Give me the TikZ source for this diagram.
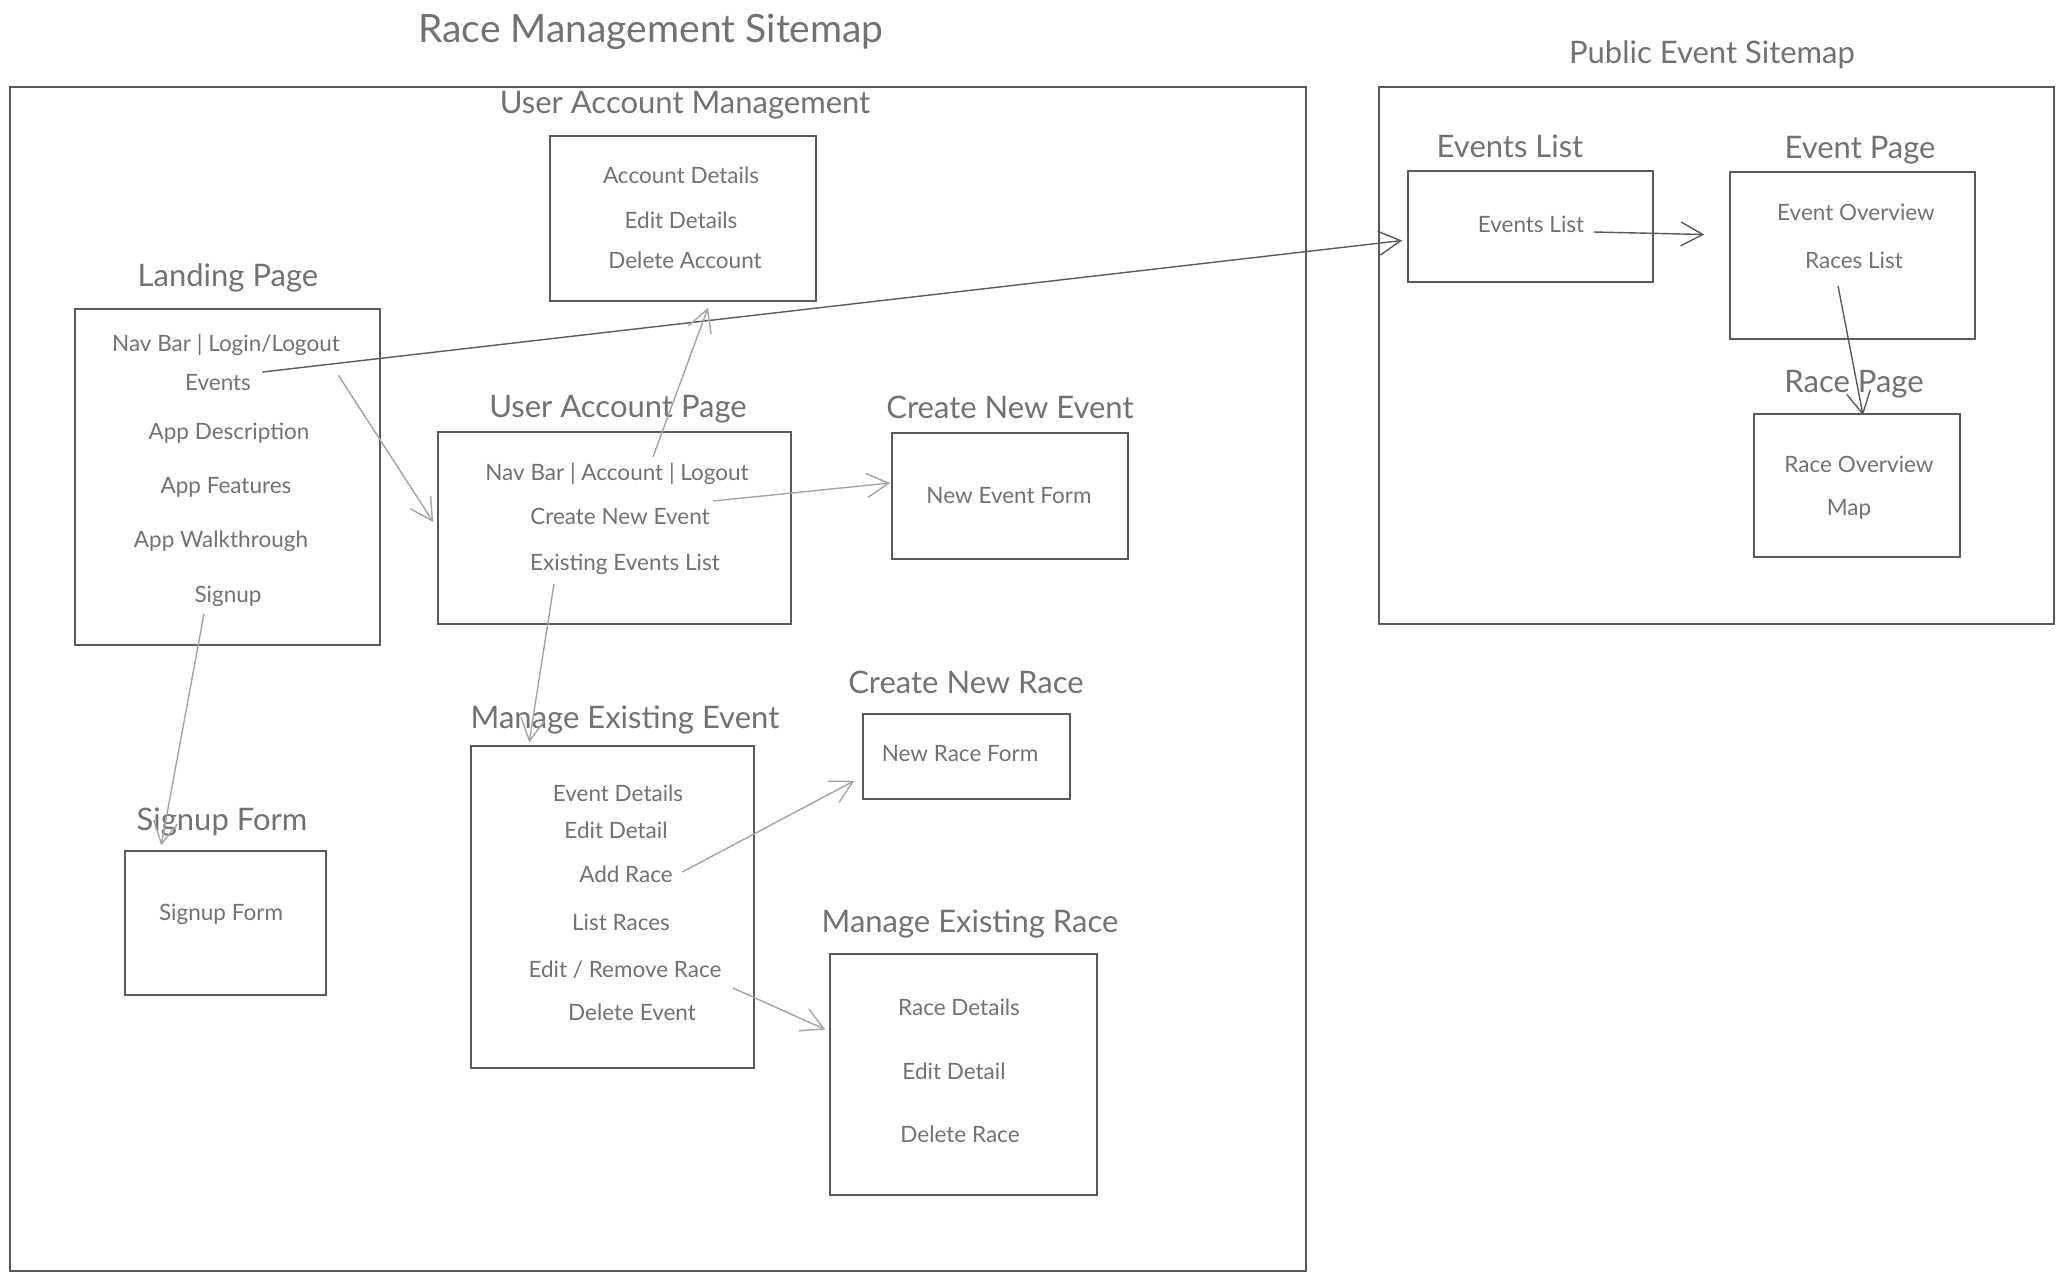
\documentclass[tikz,border=0pt]{standalone}
\usepackage{fontspec}
\setmainfont{Lato}
\usetikzlibrary{arrows.meta}
\definecolor{inkgray}{HTML}{5A5A5A}
\definecolor{textgray}{HTML}{727272}
\definecolor{lightink}{HTML}{A4A4A4}
\tikzset{
  frame/.style={draw=inkgray, line width=2pt, inner sep=0pt},
  pagebox/.style={draw=inkgray, line width=1.6pt, inner sep=0pt},
  bigtitle/.style={text=textgray, font=\fontsize{39}{45}\selectfont},
  pagetitle/.style={text=textgray, font=\fontsize{31}{36}\selectfont},
  item/.style={text=textgray, font=\fontsize{22.5}{27}\selectfont},
  link/.style={draw=lightink, line width=1.4pt, -{Straight Barb[length=22pt, width=24pt, line width=1.4pt]}},
  darklink/.style={link, draw=inkgray}
}
\begin{document}
\begin{tikzpicture}[x=1pt, y=-1pt]
  \useasboundingbox (0,0) rectangle (2063,1279);
  \fill[white] (0,0) rectangle (2063,1279);

  % frames
  \node[frame, minimum width=1296pt, minimum height=1184pt] (mgmt) at (658,679) {};
  \node[bigtitle] (mgmtTitle) at (651,32) {Race Management Sitemap};
  \node[frame, minimum width=675pt, minimum height=537pt] (public) at (1716.5,355.5) {};
  \node[pagetitle] (publicTitle) at (1712,55) {Public Event Sitemap};

  % user account management
  \node[pagetitle] (acctTitle) at (685,105) {User Account Management};
  \node[pagebox, minimum width=266pt, minimum height=165pt] (acct) at (683,218.5) {};
  \node[item] (acctDetails) at (681,175) {Account Details};
  \node[item] (acctEdit) at (681,220) {Edit Details};
  \node[item] (acctDelete) at (685,260) {Delete Account};

  % landing page
  \node[pagetitle] (landTitle) at (228,278) {Landing Page};
  \node[pagebox, minimum width=305pt, minimum height=336pt] (land) at (227.5,477) {};
  \node[item] (landNav) at (226,345) {Nav Bar | Login/Logout};
  \node[item] (landEvents) at (218,383) {Events};
  \node[item] (landDesc) at (229,433) {App Description};
  \node[item] (landFeat) at (226,487) {App Features};
  \node[item] (landWalk) at (221,541) {App Walkthrough};
  \node[item] (landSignup) at (228,596) {Signup};

  % user account page
  \node[pagetitle] (uapTitle) at (618,409) {User Account Page};
  \node[pagebox, minimum width=353pt, minimum height=192pt] (uap) at (614.5,528) {};
  \node[item] (uapNav) at (617,474) {Nav Bar | Account | Logout};
  \node[item] (uapCreate) at (620,516) {Create New Event};
  \node[item] (uapList) at (625,564) {Existing Events List};

  % create new event
  \node[pagetitle] (newEvTitle) at (1010,407) {Create New Event};
  \node[pagebox, minimum width=236pt, minimum height=126pt] (newEv) at (1010,496) {};
  \node[item] (newEvForm) at (1009,496) {New Event Form};

  % create new race
  \node[pagetitle] (newRaceTitle) at (966,682) {Create New Race};
  \node[pagebox, minimum width=207pt, minimum height=85pt] (newRace) at (966.5,756.5) {};
  \node[item] (newRaceForm) at (960,754) {New Race Form};

  % manage existing event
  \node[pagetitle] (meeTitle) at (625,720) {Manage Existing Event};
  \node[pagebox, minimum width=283pt, minimum height=322pt] (mee) at (612.5,907) {};
  \node[item] (meeDetails) at (618,793) {Event Details};
  \node[item] (meeEdit) at (616,830) {Edit Detail};
  \node[item] (meeAdd) at (626,874) {Add Race};
  \node[item] (meeList) at (621,922) {List Races};
  \node[item] (meeRemove) at (625,970) {Edit / Remove Race};
  \node[item] (meeDelete) at (632,1012) {Delete Event};

  % manage existing race
  \node[pagetitle] (merTitle) at (970,924) {Manage Existing Race};
  \node[pagebox, minimum width=267pt, minimum height=241pt] (mer) at (963.5,1074.5) {};
  \node[item] (merDetails) at (959,1007) {Race Details};
  \node[item] (merEdit) at (954,1071) {Edit Detail};
  \node[item] (merDelete) at (960,1134) {Delete Race};

  % signup form
  \node[pagetitle] (signTitle) at (222,822) {Signup Form};
  \node[pagebox, minimum width=201pt, minimum height=144pt] (sign) at (225.5,923) {};
  \node[item] (signForm) at (221,914) {Signup Form};

  % public pages
  \node[pagetitle] (evListTitle) at (1510,146) {Events List};
  \node[pagebox, minimum width=245pt, minimum height=111pt] (evList) at (1530.5,226.5) {};
  \node[item] (evListItem) at (1531,224) {Events List};
  \node[pagetitle] (evPageTitle) at (1860,150) {Event Page};
  \node[pagebox, minimum width=245pt, minimum height=167pt] (evPage) at (1852.5,255.5) {};
  \node[item] (evOverview) at (1856,212) {Event Overview};
  \node[item] (evRaces) at (1854,260) {Races List};
  \node[pagetitle] (racePageTitle) at (1854,384) {Race Page};
  \node[pagebox, minimum width=206pt, minimum height=143pt] (racePage) at (1857,485.5) {};
  \node[item] (raceOverview) at (1859,464) {Race Overview};
  \node[item] (raceMap) at (1849,509) {Map};

  % links
  \draw[darklink] ([xshift=8pt, yshift=11pt]landEvents.east) -- ([xshift=-5pt, yshift=-14pt]evList.west);
  \draw[link] ([xshift=-5pt, yshift=-16pt]landNav.south east) -- ([xshift=-4pt, yshift=6pt]uap.west);
  \draw[link] ([xshift=36pt, yshift=3pt]uapNav.north) -- ([xshift=25pt, yshift=-6pt]acct.south);
  \draw[link] ([xshift=0pt, yshift=15pt]uapCreate.east) -- ([xshift=-1pt, yshift=13pt]newEv.west);
  \draw[link] ([xshift=-71pt, yshift=-6pt]uapList.south) -- ([xshift=59pt, yshift=3pt]mee.north west);
  \draw[link] ([xshift=-24pt, yshift=-4pt]landSignup.south) -- ([xshift=37pt, yshift=5pt]sign.north west);
  \draw[link] ([xshift=6pt, yshift=2pt]meeAdd.east) -- ([xshift=-8pt, yshift=19pt]newRace.south west);
  \draw[link] ([xshift=8pt, yshift=-18pt]meeRemove.east) -- ([xshift=-4pt, yshift=45pt]mer.west);
  \draw[darklink] ([xshift=6pt, yshift=-8pt]evListItem.east) -- ([xshift=-25pt, yshift=21pt]evPage.west);
  \draw[darklink] ([xshift=-16pt, yshift=-14pt]evRaces.south) -- ([xshift=6pt, yshift=-2pt]racePage.north);
\end{tikzpicture}
\end{document}
